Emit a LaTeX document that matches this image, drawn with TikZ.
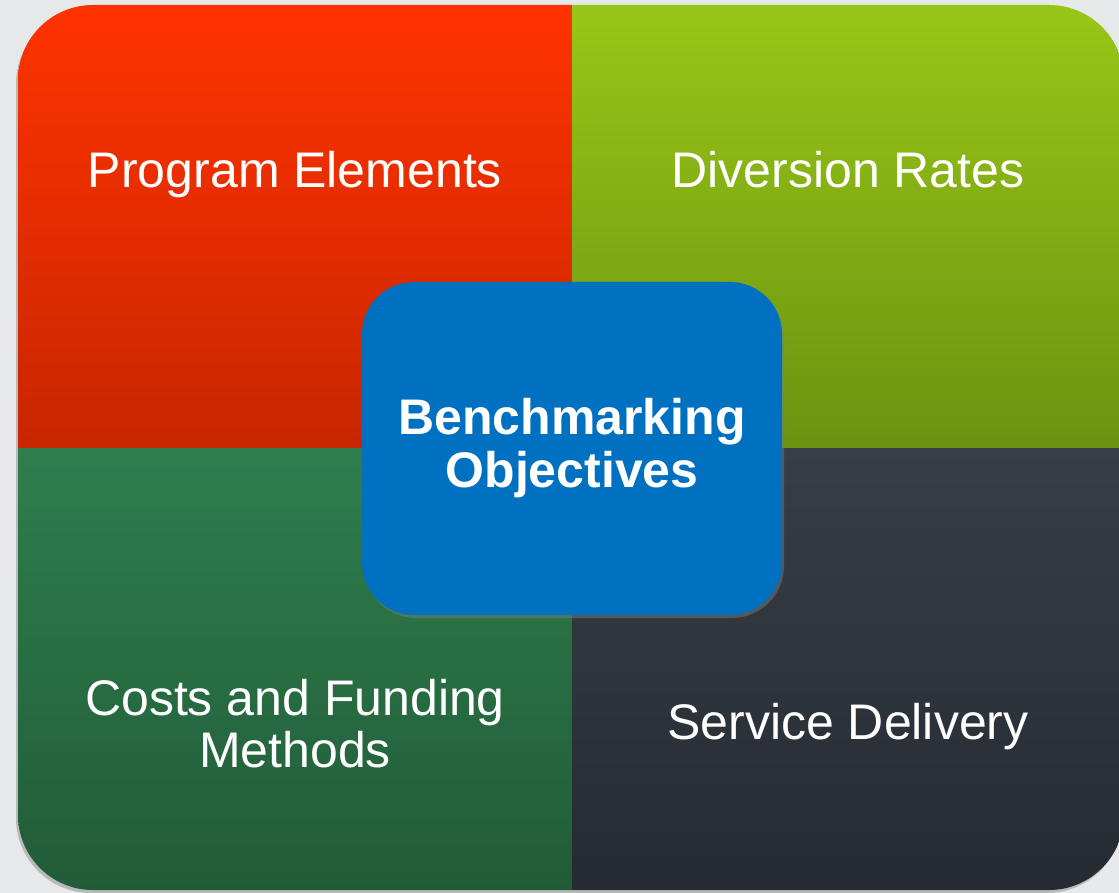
\documentclass[tikz,border=0pt]{standalone}
\usepackage{fontspec}
\setmainfont{Liberation Sans}
\usetikzlibrary{shadows}
\definecolor{bgGray}{HTML}{E6E8EA}
\definecolor{redTop}{HTML}{FF3300}
\definecolor{redBot}{HTML}{C82600}
\definecolor{limeTop}{HTML}{98C617}
\definecolor{limeBot}{HTML}{6C9311}
\definecolor{greenTop}{HTML}{2F7E4E}
\definecolor{greenBot}{HTML}{215C37}
\definecolor{slateTop}{HTML}{373E46}
\definecolor{slateBot}{HTML}{262B32}
\definecolor{benchBlue}{HTML}{0070C0}
\tikzset{
  quadtext/.style={text=white, font=\fontsize{50pt}{52pt}\selectfont, align=center, inner sep=0pt},
  centerbox/.style={fill=benchBlue, rounded corners=52pt, minimum width=420pt, minimum height=333pt,
    text=white, font=\fontsize{50pt}{53pt}\selectfont\bfseries, align=center,
    drop shadow={shadow xshift=2pt, shadow yshift=-3pt, opacity=.45}}
}
\begin{document}
\begin{tikzpicture}[x=1pt,y=-1pt]
  \fill[bgGray] (0,0) rectangle (1119,893);
  \clip (0,0) rectangle (1119,893);
  % outer box
  \fill[black, opacity=.2, rounded corners=75pt] (16,9) rectangle (1122,893);
  \begin{scope}
    \clip[rounded corners=75pt] (18,5) rectangle (1124,890);
    \shade[top color=redTop, bottom color=redBot] (18,5) rectangle (572,448);
    \shade[top color=limeTop, bottom color=limeBot] (572,5) rectangle (1124,448);
    \shade[top color=greenTop, bottom color=greenBot] (18,448) rectangle (572,890);
    \shade[top color=slateTop, bottom color=slateBot] (572,448) rectangle (1124,890);
  \end{scope}
  % labels
  \node[quadtext, anchor=base] (prog) at (295,188) {Program Elements};
  \node[quadtext, anchor=base] (div) at (848,188) {Diversion Rates};
  \node[quadtext, anchor=base] (cost) at (295,767) {Costs and Funding\\Methods};
  \node[quadtext, anchor=base] (serv) at (848,739) {Service Delivery};
  % center
  \node[centerbox] (bench) at (572,448.5) {Benchmarking\\Objectives};
\end{tikzpicture}
\end{document}
